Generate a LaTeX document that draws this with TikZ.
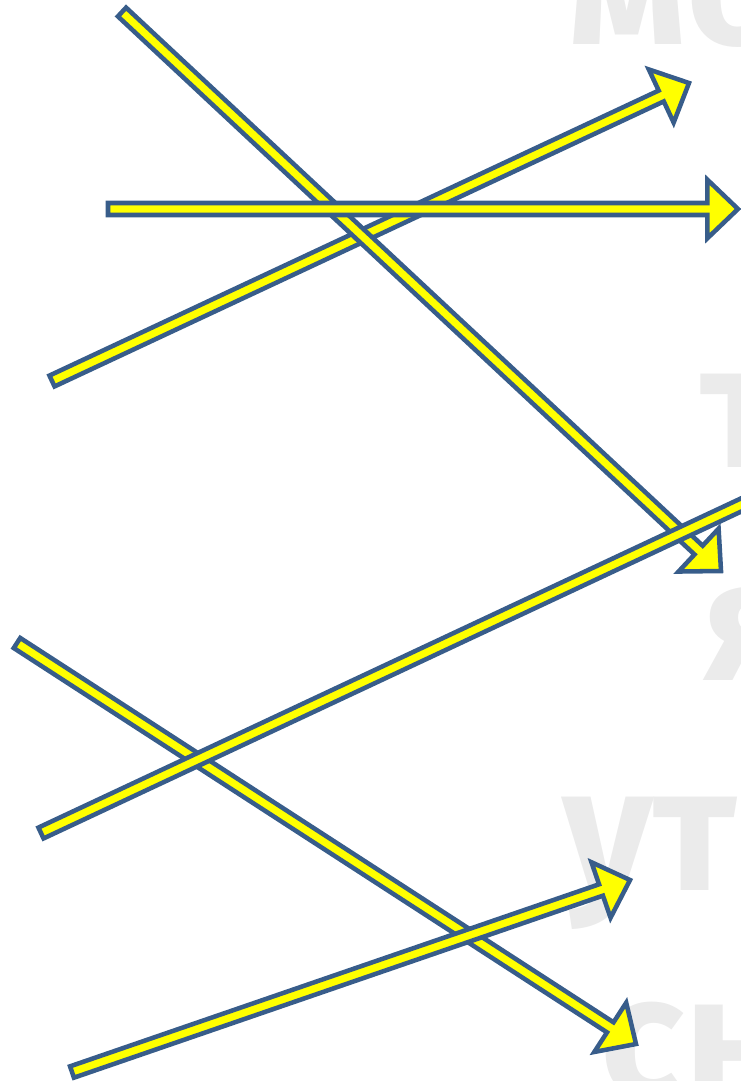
\documentclass[tikz,border=0pt]{standalone}
\usepackage{fontspec}
\newfontfamily\bgfont{Fira Sans}
\usetikzlibrary{calc}
\definecolor{arrowblue}{RGB}{56,93,138}
\definecolor{arrowyellow}{RGB}{255,255,0}
\definecolor{ghostgray}{RGB}{235,235,235}

\newcommand{\shaftw}{4.5pt}
\newcommand{\headw}{22pt}
\newcommand{\headl}{23pt}
% outlined fat arrow between two named coordinates
\newcommand{\fatarrow}[2]{%
  \coordinate (#2base) at ($(#2)!\headl!(#1)$);
  \draw[fatarr] ($(#1)!\shaftw!90:(#2)$)
    -- ($(#2base)!\shaftw!-90:(#1)$)
    -- ($(#2base)!\headw!-90:(#1)$)
    -- (#2)
    -- ($(#2base)!\headw!90:(#1)$)
    -- ($(#2base)!\shaftw!90:(#1)$)
    -- ($(#1)!\shaftw!-90:(#2)$) -- cycle;}

\begin{document}
\begin{tikzpicture}[
    x=0.75pt, y=-0.75pt,
    fatarr/.style={draw=arrowblue, fill=arrowyellow, line width=3.4pt, line join=miter},
    ghost/.style={text=ghostgray, font=\bgfont\bfseries\fontsize{132}{132}\selectfont,
      inner sep=0pt, anchor=base west}
  ]
  \useasboundingbox (0,0) rectangle (741,1081);
  \clip (0,0) rectangle (741,1081);

  % faded words behind
  \node[ghost] (wmo) at (568,45) {мо};
  \node[ghost] (wt) at (700,467) {т};
  \node[ghost] (wya) at (702,680) {я};
  \node[ghost] (wut) at (562,890) {ут};
  \node[ghost] (wsn) at (600,1098) {сн};

  % arrow ends
  \coordinate (a1) at (52,381);  \coordinate (a2) at (689,83);
  \coordinate (b1) at (108,209); \coordinate (b2) at (738,209);
  \coordinate (c1) at (122,12);  \coordinate (c2) at (721,571);
  \coordinate (d1) at (41,833);  \coordinate (d2) at (820,468);
  \coordinate (e1) at (17,643);  \coordinate (e2) at (636,1044);
  \coordinate (f1) at (72,1072); \coordinate (f2) at (630,880);

  \fatarrow{a1}{a2}
  \fatarrow{c1}{c2}
  \fatarrow{b1}{b2}
  \fatarrow{e1}{e2}
  \fatarrow{d1}{d2}
  \fatarrow{f1}{f2}
\end{tikzpicture}
\end{document}
